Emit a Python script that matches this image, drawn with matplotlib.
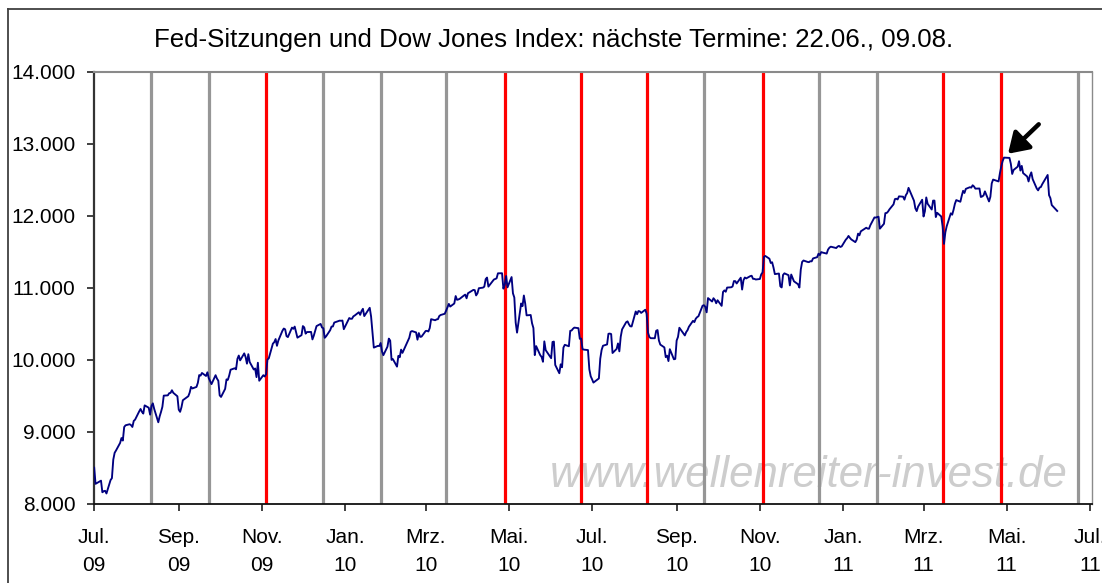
import matplotlib
matplotlib.use("Agg")
import matplotlib.pyplot as plt
import matplotlib.ticker as mticker
from matplotlib.lines import Line2D
import pandas as pd

plt.rcParams['font.family'] = ['Liberation Sans', 'DejaVu Sans']

title = "Fed-Sitzungen und Dow Jones Index: nächste Termine: 22.06., 09.08."
watermark = "www.wellenreiter-invest.de"

# NYSE holidays in the period (to build the list of trading days)
nyse_holidays = ["2009-07-03", "2009-09-07", "2009-11-26", "2009-12-25",
                 "2010-01-01", "2010-01-18", "2010-02-15", "2010-04-02",
                 "2010-05-31", "2010-07-05", "2010-09-06", "2010-11-25",
                 "2010-12-24", "2011-01-17", "2011-02-21", "2011-04-22",
                 "2011-05-30"]
first_day = "2009-07-01"
last_day = "2011-06-07"

# Dow Jones daily closes
dow_2009 = [
    8504, 8280, 8324, 8163, 8178, 8183, 8146, 8332, 8359, 8616, 8711, 8743,
    8848, 8916, 8881, 9069, 9093, 9108, 9096, 9070, 9154, 9172,
    9286, 9320, 9280, 9256, 9370, 9337, 9241, 9361, 9398, 9321, 9135, 9217,
    9279, 9350, 9505, 9509, 9539, 9543, 9580, 9544, 9496,
    9310, 9280, 9345, 9441, 9497, 9547, 9627, 9605, 9626, 9683, 9791, 9783,
    9820, 9778, 9829, 9748, 9707, 9665, 9789, 9742, 9712,
    9509, 9487, 9599, 9731, 9725, 9786, 9865, 9885, 9871, 10015, 10062, 9995,
    10092, 10041, 9949, 10081, 9972, 9868, 9882, 9762, 9962, 9712,
    9789, 9771, 9802, 10005, 10023, 10227, 10247, 10291, 10197, 10270, 10406,
    10437, 10426, 10332, 10318, 10450, 10433, 10464, 10310, 10345,
    10471, 10453, 10366, 10388, 10390, 10286, 10338, 10405, 10471, 10501,
    10452, 10441, 10308, 10328, 10414, 10464, 10466, 10520, 10547, 10545,
    10548, 10428,
]
dow_2010 = [
    10583, 10572, 10573, 10606, 10618, 10663, 10627, 10680, 10711, 10610,
    10725, 10604, 10389, 10172, 10196, 10194, 10236, 10120, 10067,
    10185, 10297, 10270, 10002, 10012, 9908, 10058, 10038, 10144, 10099,
    10268, 10309, 10392, 10402, 10383, 10282, 10374, 10321, 10325,
    10403, 10405, 10396, 10444, 10567, 10552, 10564, 10567, 10611, 10625,
    10642, 10685, 10733, 10779, 10742, 10785, 10888, 10836, 10841, 10850,
    10895, 10908, 10857,
    10927, 10974, 10970, 10897, 10927, 10997, 11005, 11019, 11123, 11145,
    11019, 11092, 11117, 11125, 11134, 11204, 11205, 10991, 11045, 11167,
    11009,
    11152, 10926, 10868, 10520, 10380, 10785, 10748, 10896, 10782, 10620,
    10625, 10510, 10444, 10068, 10193, 10067, 10043, 9975, 10259, 10137,
    10025, 10250, 10256, 9931, 9816, 9940, 9899, 10172, 10211, 10191, 10405,
    10410, 10434, 10450, 10442, 10294, 10298, 10152, 10144, 10138, 9870, 9774,
    9732, 9686, 9744, 10018, 10139, 10198, 10216, 10364, 10367, 10360, 10097,
    10154, 10230, 10120, 10322, 10425, 10525, 10537, 10497, 10468, 10466,
    10674, 10636, 10680, 10675, 10654, 10698, 10644, 10379, 10320, 10303,
    10302, 10406, 10416, 10271, 10214, 10175, 10040, 10060, 9985, 10150,
    10010, 10015,
    10270, 10321, 10448, 10341, 10388, 10415, 10462, 10544, 10526, 10573,
    10595, 10608, 10754, 10761, 10739, 10662, 10860, 10812, 10858, 10835,
    10788,
    10830, 10752, 10945, 10967, 10948, 11006, 11010, 11021, 11096, 11095,
    11063, 11143, 10978, 11108, 11146, 11133, 11165, 11170, 11127, 11127,
    11118,
    11125, 11189, 11216, 11434, 11445, 11407, 11347, 11358, 11284, 11193,
    11201, 11024, 11008, 11181, 11204, 11178, 11036, 11187, 11093, 11052,
    11006,
    11256, 11362, 11382, 11362, 11359, 11372, 11370, 11411, 11428, 11476,
    11457, 11499, 11492, 11478, 11534, 11560, 11574, 11555, 11575, 11585,
    11570, 11578,
]
dow_2011 = [
    11671, 11692, 11723, 11697, 11675, 11637, 11672, 11755, 11732, 11787,
    11837, 11825, 11823, 11872, 11980, 11978, 11985, 11990, 11824, 11892,
    12040, 12042, 12062, 12092, 12162, 12234, 12240, 12230, 12273, 12268,
    12227, 12288, 12318, 12391, 12212, 12106, 12068, 12130, 12226,
    11993, 12066, 12258, 12170, 12090, 12214, 12214, 11985, 12044, 11993,
    11855, 11613, 11775, 11859, 12037, 12018, 12086, 12170, 12221, 12198,
    12280, 12350, 12320,
    12377, 12400, 12394, 12427, 12410, 12380, 12382, 12264, 12271, 12286,
    12342, 12202, 12267, 12453, 12506, 12480, 12595, 12690, 12764, 12811,
    12808, 12807, 12724, 12584, 12639, 12685, 12761, 12631, 12696, 12596,
    12548, 12480, 12561, 12606, 12512, 12382, 12356, 12394, 12402, 12441,
    12570,
    12290, 12248, 12152, 12089, 12070,
]

# Fed meeting dates
fed_gray = ["2009-08-12", "2009-09-23", "2009-12-16", "2010-01-27",
            "2010-03-16", "2010-09-21", "2010-12-14", "2011-01-26",
            "2011-06-22"]
fed_red = ["2009-11-04", "2010-04-28", "2010-06-23", "2010-08-10",
           "2010-11-03", "2011-03-15", "2011-04-27"]

# x axis ticks / labels
tick_dates = ["2009-07-01", "2009-09-01", "2009-11-01", "2010-01-01",
              "2010-03-01", "2010-05-01", "2010-07-01", "2010-09-01",
              "2010-11-01", "2011-01-01", "2011-03-01", "2011-05-01",
              "2011-07-01"]
tick_labels = ["Jul.\n09", "Sep.\n09", "Nov.\n09", "Jan.\n10", "Mrz.\n10",
               "Mai.\n10", "Jul.\n10", "Sep.\n10", "Nov.\n10", "Jan.\n11",
               "Mrz.\n11", "Mai.\n11", "Jul.\n11"]
y_ticks = [8000, 9000, 10000, 11000, 12000, 13000, 14000]

# ---------------------------------------------------------------
dow = dow_2009 + dow_2010 + dow_2011
trade_days = pd.bdate_range(first_day, last_day, freq="C",
                            holidays=nyse_holidays)
n = min(len(trade_days), len(dow))
series = pd.Series(dow[:n], index=trade_days[:n])

W, H = 1102, 583
fig = plt.figure(figsize=(W / 100, H / 100), dpi=100)
ax = fig.add_axes([93.5 / W, 1 - 504 / H, (1092 - 93.5) / W, (504 - 72) / H])

for d in fed_gray:
    ax.axvline(pd.Timestamp(d), color="#969696", lw=2.3, zorder=1)
for d in fed_red:
    ax.axvline(pd.Timestamp(d), color="#ff0000", lw=2.3, zorder=1)

ax.plot(series.index, series.values, color="#000080", lw=1.35, zorder=3)

ax.set_xlim(pd.Timestamp("2009-06-30 12:00"), pd.Timestamp("2011-07-02 12:00"))
ax.set_ylim(8000, 14000)

ax.set_xticks([pd.Timestamp(d) for d in tick_dates])
ax.set_xticklabels(tick_labels, fontsize=15, linespacing=1.6)
ax.set_yticks(y_ticks)
ax.yaxis.set_major_formatter(
    mticker.FuncFormatter(lambda v, p: f"{v:,.0f}".replace(",", ".")))
ax.tick_params(axis="y", labelsize=15, length=5, width=1.2,
               direction="out", pad=8, colors="#202020")
ax.tick_params(axis="x", length=5, width=1.2, direction="out", pad=12.5,
               colors="#202020")
for lab in ax.get_yticklabels() + ax.get_xticklabels():
    lab.set_color("black")

ax.spines["top"].set_color("#8a8a8a")
ax.spines["top"].set_linewidth(1.5)
ax.spines["right"].set_color("#8a8a8a")
ax.spines["right"].set_linewidth(1.0)
ax.spines["left"].set_color("#333333")
ax.spines["left"].set_linewidth(1.6)
ax.spines["bottom"].set_color("#111111")
ax.spines["bottom"].set_linewidth(1.3)

# watermark
ax.text(550 / W, 1 - 487 / H, watermark, transform=fig.transFigure,
        fontsize=31.5, style="italic", color="#cdcdcd", ha="left",
        va="baseline", zorder=0.5)

# arrow to the top
peak_date = series.idxmax()
peak_val = series.max()
ax.annotate("", xy=(peak_date, peak_val), xycoords="data",
            xytext=(25, 24), textcoords="offset points",
            arrowprops=dict(arrowstyle="-|>,head_length=0.7,head_width=0.45",
                            color="black", lw=3.2, shrinkA=0, shrinkB=4,
                            mutation_scale=17),
            zorder=5)

# title
fig.text(553.5 / W, 1 - 47 / H, title, fontsize=18.6, ha="center",
         va="baseline", color="black")

# outer frame (top and left edges visible)
fig.add_artist(Line2D([7.5 / W, 7.5 / W], [0, 1 - 8.5 / H],
                      transform=fig.transFigure, color="#404040", lw=1.3))
fig.add_artist(Line2D([7.5 / W, 1], [1 - 8.5 / H, 1 - 8.5 / H],
                      transform=fig.transFigure, color="#404040", lw=1.3))

fig.savefig("out.png", dpi=100)
